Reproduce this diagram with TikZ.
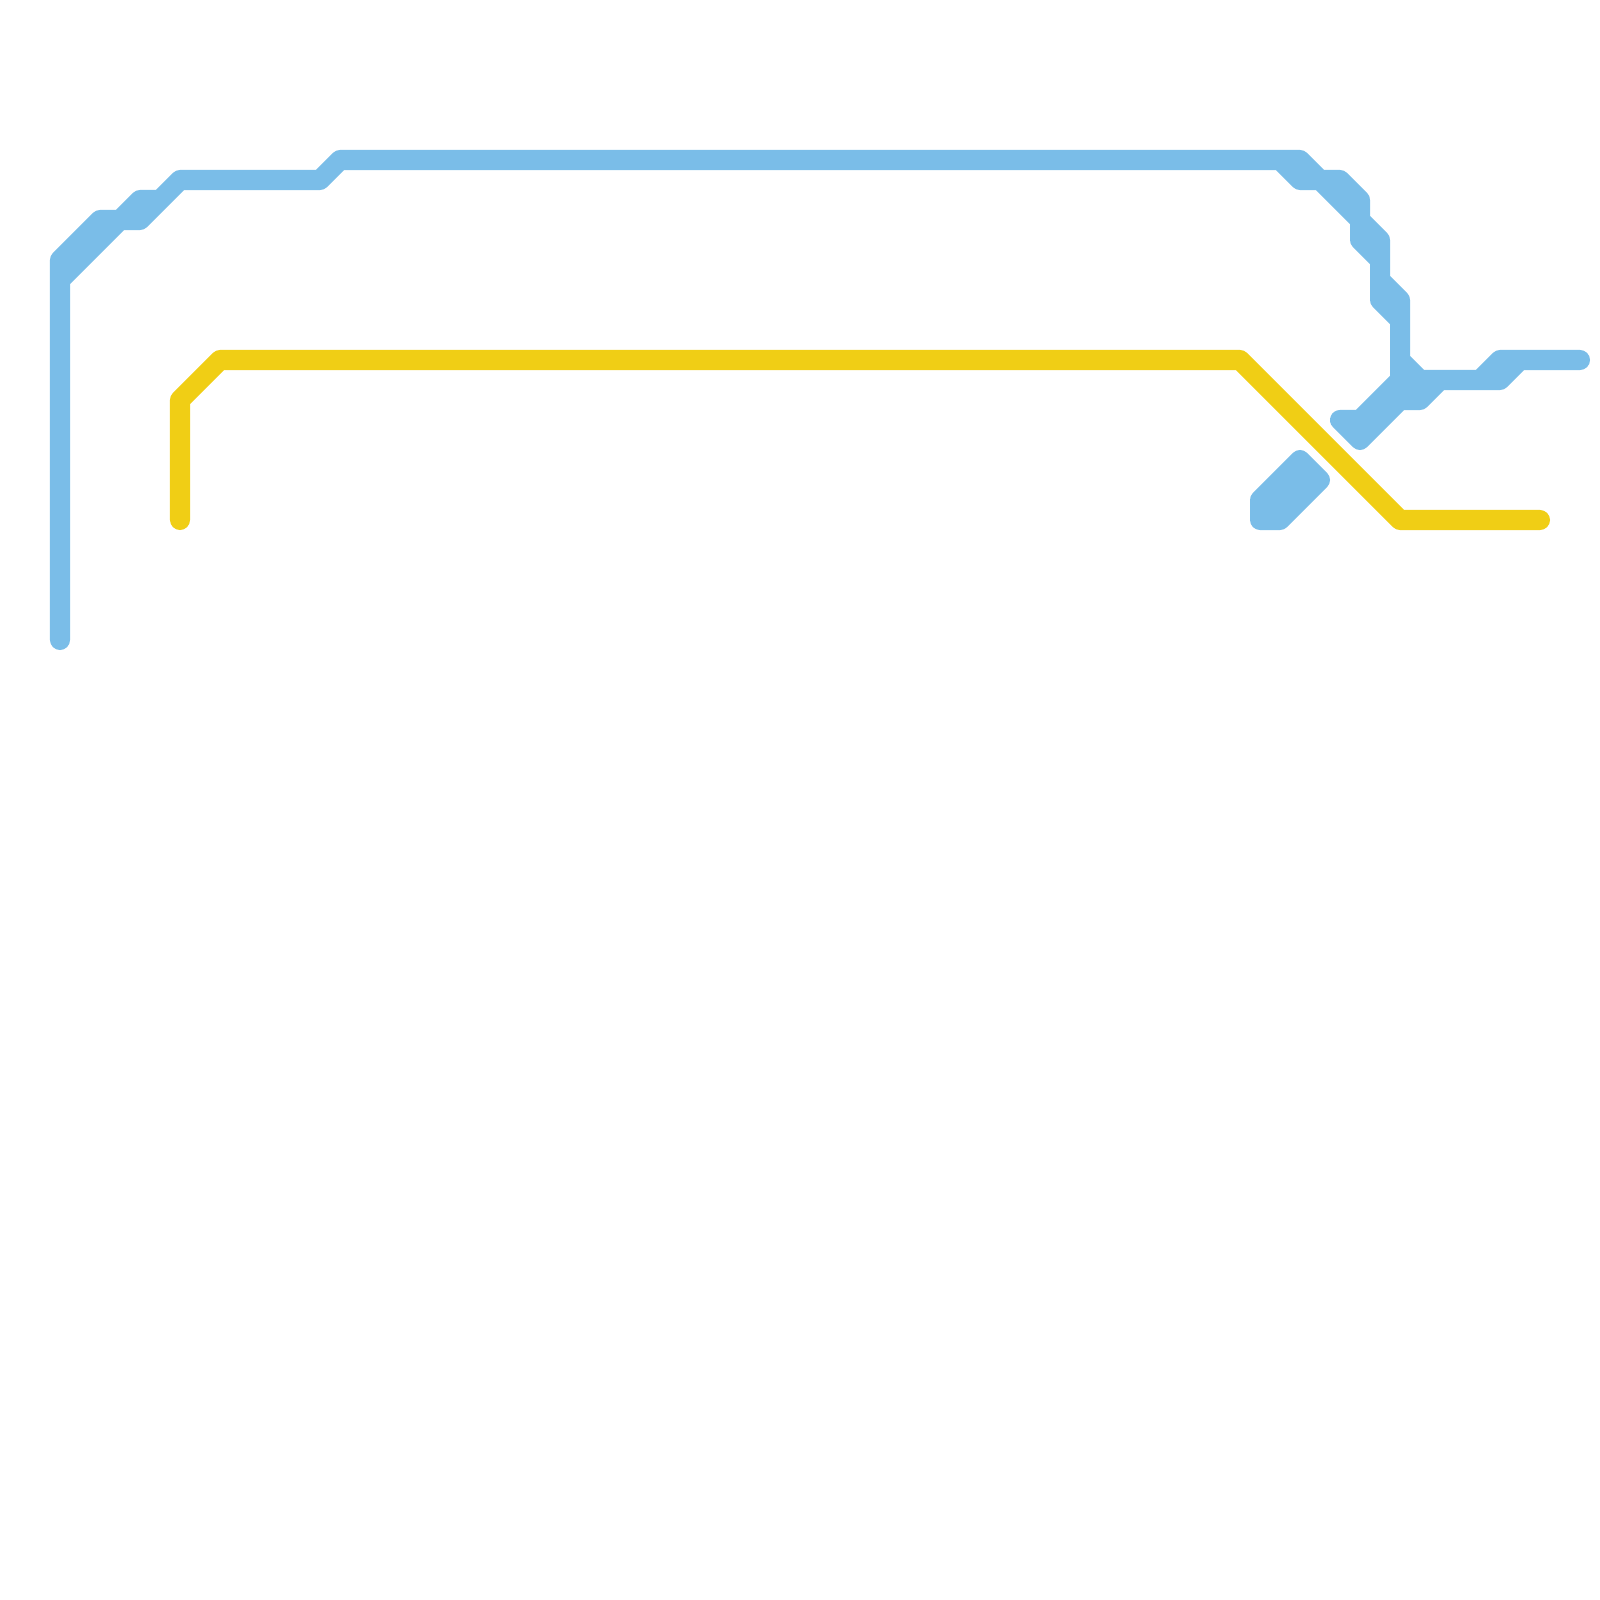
\documentclass[tikz,border=0pt]{standalone}
\definecolor{lineblue}{HTML}{7ABDE8}
\definecolor{lineyellow}{HTML}{F0CE15}
\tikzset{
  route/.style={line width=2mm,line cap=round,line join=round},
  bluepart/.style={route,draw=lineblue,fill=lineblue},
  yellowline/.style={route,draw=lineyellow}
}
\begin{document}
\begin{tikzpicture}[x=0.01cm,y=-0.01cm]
\useasboundingbox (0,0) rectangle (1600,1600);
% yellow route
\draw[yellowline] (180,520) -- (180,400) -- (220,360) -- (1240,360) -- (1400,520) -- (1540,520);
% blue route, drawn as one outline so that no seams appear
\draw[bluepart] (60,640) -- (60,260) -- (100,220) -- (120,220) -- (140,200) -- (160,200) -- (180,180) -- (320,180) -- (340,160) -- (1300,160) -- (1320,180) -- (1340,180) -- (1360,200) -- (1360,220) -- (1380,240) -- (1380,280) -- (1400,300) -- (1400,360) -- (1420,380) -- (1480,380) -- (1500,360) -- (1580,360) -- (1520,360) -- (1500,380) -- (1440,380) -- (1420,400) -- (1400,400) -- (1360,440) -- (1340,420) -- (1360,420) -- (1400,380) -- (1400,320) -- (1380,300) -- (1380,260) -- (1360,240) -- (1360,220) -- (1320,180) -- (1300,180) -- (1280,160) -- (340,160) -- (320,180) -- (180,180) -- (140,220) -- (120,220) -- (60,280) -- cycle;
% blue detached block
\draw[bluepart] (1260,500) -- (1300,460) -- (1320,480) -- (1280,520) -- (1260,520) -- cycle;
\end{tikzpicture}
\end{document}
